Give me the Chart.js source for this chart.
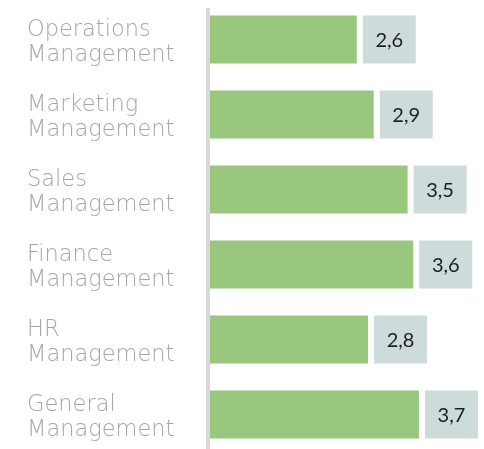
<!DOCTYPE html>
<html>
<head>
<meta charset="utf-8">
<script src="https://cdn.jsdelivr.net/npm/chart.js@4"></script>
<style>
  html, body { margin: 0; padding: 0; background: #fff; overflow: hidden; }
  #wrap { width: 484px; height: 452px; position: relative; }
</style>
</head>
<body>
<div id="wrap"><canvas id="barChart"></canvas></div>
<script>
const categories = [
  ['Operations', 'Management'],
  ['Marketing', 'Management'],
  ['Sales', 'Management'],
  ['Finance', 'Management'],
  ['HR', 'Management'],
  ['General', 'Management']
];
const scores = [2.6, 2.9, 3.5, 3.6, 2.8, 3.7];

const labelFont = '"DejaVu Sans", sans-serif';
const valueFont = '"Lato", "Open Sans", sans-serif';

// grey vertical axis line left of the bars
const axisLine = {
  id: 'axisLine',
  beforeDraw(chart) {
    // nudge the category labels down a little
    const s = chart.scales.y;
    if (!s._nudged) {
      const orig = s.drawLabels.bind(s);
      s.drawLabels = function(area) {
        chart.ctx.save();
        chart.ctx.translate(0, 3);
        orig(area);
        chart.ctx.restore();
      };
      s._nudged = true;
    }
  },
  beforeDatasetsDraw(chart) {
    const c = chart.ctx;
    const x = chart.chartArea.left;
    c.save();
    c.fillStyle = '#d9d9d9';
    c.fillRect(x - 4, 8, 4, chart.height - 8);
    c.restore();
  }
};

// value boxes right of each bar
const valueBoxes = {
  id: 'valueBoxes',
  afterDatasetsDraw(chart) {
    const c = chart.ctx;
    const meta = chart.getDatasetMeta(0);
    c.save();
    meta.data.forEach((bar, i) => {
      const h = bar.height;
      const bx = bar.x + 6;
      const by = bar.y - h / 2;
      c.fillStyle = '#cddbdb';
      c.fillRect(bx, by, 53, h);
      c.fillStyle = '#1e1e1e';
      c.font = '20px ' + valueFont;
      c.textAlign = 'center';
      c.textBaseline = 'middle';
      c.fillText(scores[i].toFixed(1).replace('.', ','), bx + 26.5, bar.y + 1);
    });
    c.restore();
  }
};

const ctx = document.getElementById('barChart').getContext('2d');
const barChart = new Chart(ctx, {
  type: 'bar',
  data: {
    labels: categories,
    datasets: [{
      data: scores,
      backgroundColor: '#99c77e',
      borderWidth: 0,
      categoryPercentage: 1,
      barPercentage: 0.64
    }]
  },
  options: {
    indexAxis: 'y',
    responsive: true,
    maintainAspectRatio: false,
    animation: false,
    layout: { padding: { left: 27, right: 3, top: 2, bottom: 0 } },
    plugins: {
      legend: { display: false },
      tooltip: { enabled: false }
    },
    scales: {
      x: {
        display: false,
        min: 0,
        max: 4.8
      },
      y: {
        grid: { display: false, drawTicks: false },
        border: { display: false },
        ticks: {
          crossAlign: 'far',
          color: '#a6a6a6',
          padding: 0,
          font: { family: labelFont, size: 22.5, weight: 200, lineHeight: 1.11 }
        },
        afterFit(scale) {
          scale.width = 183;
          scale.paddingTop = 0;
          scale.paddingBottom = 0;
        }
      }
    }
  },
  plugins: [axisLine, valueBoxes]
});
</script>
</body>
</html>
